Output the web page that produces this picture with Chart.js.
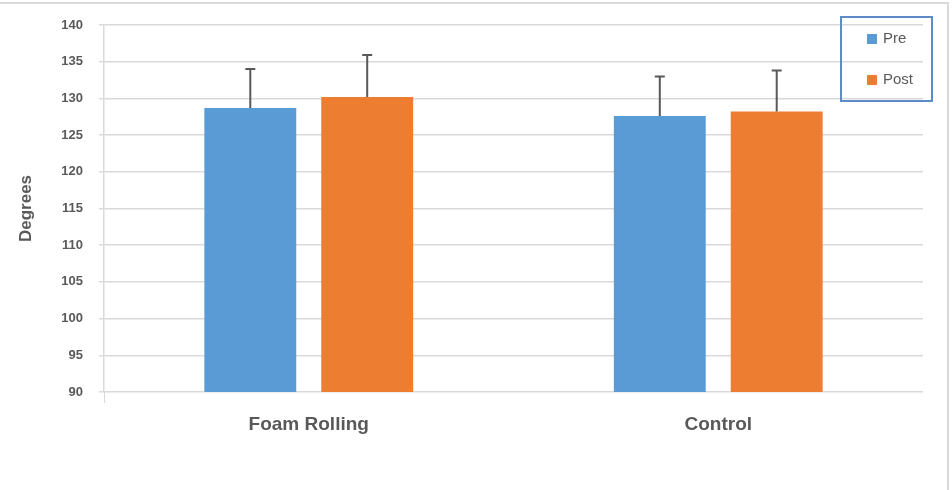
<!DOCTYPE html>
<html>
<head>
<meta charset="utf-8">
<script src="https://cdn.jsdelivr.net/npm/chart.js@4/dist/chart.umd.min.js"></script>
<style>
  html, body { margin: 0; padding: 0; background: #fff; }
  #wrap { position: relative; width: 952px; height: 490px; overflow: hidden; }
  #frame { position: absolute; left: -2px; top: 2px; width: 951px; height: 500px;
           border-top: 2px solid #d9d9d9; border-right: 2px solid #d9d9d9; box-sizing: border-box; pointer-events: none; }
  canvas { position: absolute; left: 0; top: 0; }
</style>
</head>
<body>
<div id="wrap">
  <canvas id="c" width="952" height="490"></canvas>
  <div id="frame"></div>
</div>
<script>
const categories = ['Foam Rolling', 'Control'];
const seriesNames = ['Pre', 'Post'];
const preValues = [128.7, 127.6];
const postValues = [130.2, 128.2];
const preErrors = [5.3, 5.4];
const postErrors = [5.7, 5.6];
const yMin = 90, yMax = 140, yStep = 5;
const axisTitle = 'Degrees';

const textColor = '#595959';
const gridColor = '#d9d9d9';

const errorBars = {
  id: 'errorBars',
  afterDatasetsDraw(chart) {
    const ctx = chart.ctx;
    const y = chart.scales.y;
    ctx.save();
    ctx.strokeStyle = '#595959';
    ctx.lineWidth = 2;
    chart.data.datasets.forEach((ds, di) => {
      const meta = chart.getDatasetMeta(di);
      meta.data.forEach((bar, i) => {
        const v = ds.data[i];
        const e = ds.errors[i];
        const x = bar.x;
        const yTop = y.getPixelForValue(v + e);
        const yBar = y.getPixelForValue(v);
        ctx.beginPath();
        ctx.moveTo(x, yBar);
        ctx.lineTo(x, yTop);
        ctx.moveTo(x - 5, yTop);
        ctx.lineTo(x + 5, yTop);
        ctx.stroke();
      });
    });
    ctx.restore();
  }
};

const boxLegend = {
  id: 'boxLegend',
  afterDraw(chart) {
    const ctx = chart.ctx;
    ctx.save();
    ctx.strokeStyle = '#5b8cc8';
    ctx.lineWidth = 2;
    ctx.strokeRect(841, 17, 91, 84);
    ctx.font = '15px "Liberation Sans", Arial, sans-serif';
    ctx.textBaseline = 'middle';
    ctx.textAlign = 'left';
    chart.data.datasets.forEach((ds, i) => {
      const cy = 39 + i * 41;
      ctx.fillStyle = ds.backgroundColor;
      ctx.fillRect(867, cy - 5, 10, 10);
      ctx.fillStyle = textColor;
      ctx.fillText(ds.label, 883, cy);
    });
    ctx.restore();
  }
};

new Chart(document.getElementById('c'), {
  type: 'bar',
  data: {
    labels: categories,
    datasets: [
      { label: seriesNames[0], data: preValues, errors: preErrors, backgroundColor: '#5b9bd5',
        categoryPercentage: 0.571, barPercentage: 0.786 },
      { label: seriesNames[1], data: postValues, errors: postErrors, backgroundColor: '#ed7d31',
        categoryPercentage: 0.571, barPercentage: 0.786 }
    ]
  },
  options: {
    responsive: false,
    animation: false,
    layout: { padding: { top: 25, right: 29, left: 0, bottom: 0 } },
    plugins: { legend: { display: false }, tooltip: { enabled: false } },
    scales: {
      x: {
        afterFit(s) { s.height = 98; },
        grid: {
          drawOnChartArea: false,
          tickLength: 11,
          color: (c) => c.index === 0 ? gridColor : 'rgba(0,0,0,0)'
        },
        border: { display: false },
        ticks: {
          padding: 10,
          color: textColor,
          font: { family: '"Liberation Sans", Arial, sans-serif', size: 19, weight: 'bold' }
        }
      },
      y: {
        min: yMin, max: yMax,
        afterFit(s) { s.width = 104; },
        grid: { color: gridColor, lineWidth: 1.5, tickLength: 5 },
        border: { display: true, color: gridColor, width: 1.5 },
        ticks: {
          stepSize: yStep,
          padding: 16,
          color: textColor,
          font: { family: '"Liberation Sans", Arial, sans-serif', size: 13, weight: 'bold' }
        },
        title: {
          display: true,
          text: axisTitle,
          color: textColor,
          padding: { top: 16, bottom: 0 },
          font: { family: '"Liberation Sans", Arial, sans-serif', size: 17, weight: 'bold' }
        }
      }
    }
  },
  plugins: [errorBars, boxLegend]
});
</script>
</body>
</html>
